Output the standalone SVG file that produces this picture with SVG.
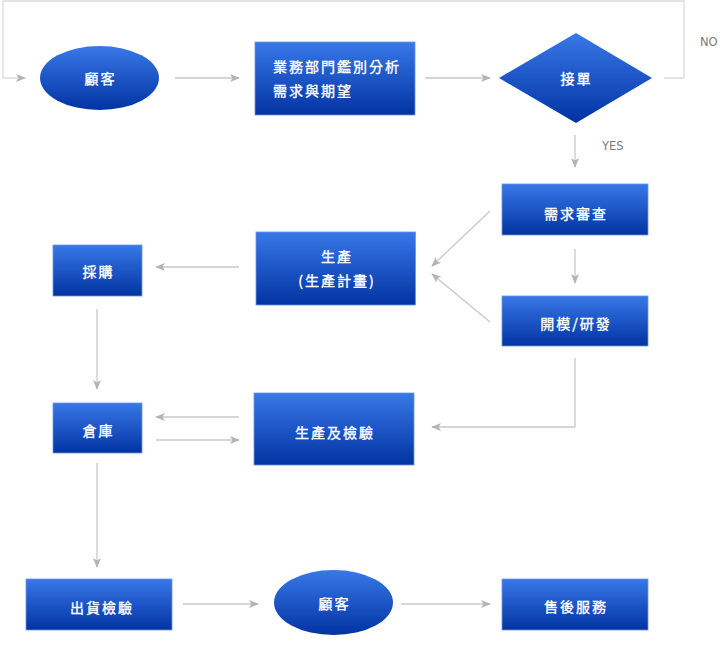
<svg xmlns="http://www.w3.org/2000/svg" width="722" height="666" viewBox="0 0 722 666">
<defs>
<linearGradient id="g" x1="0" y1="0" x2="0" y2="1">
<stop offset="0" stop-color="#3878e8"/>
<stop offset="1" stop-color="#0233a2"/>
</linearGradient>
<marker id="ah" viewBox="0 0 10 8" refX="9" refY="4" markerWidth="10" markerHeight="8" markerUnits="userSpaceOnUse" orient="auto">
<path d="M0,0 L10,4 L0,8 L2.5,4 z" fill="#b4b4b4"/>
</marker>
<style>
.n{fill:url(#g);stroke:#6f95e0;stroke-width:0.8}
.t{fill:#fff;stroke:#fff;stroke-width:0.35;font-family:"Noto Sans CJK TC","Noto Sans CJK SC",sans-serif;font-size:14px;letter-spacing:2px;text-anchor:middle;dominant-baseline:central}
.tl{text-anchor:start}
.c{fill:none;stroke:#c8c8c8;stroke-width:1.3}
.a{marker-end:url(#ah)}
.lab{fill:#7a7a7a;font-family:"DejaVu Sans",sans-serif;font-size:11.5px;dominant-baseline:central}
</style>
</defs>
<g id="connectors">
<polyline class="c a" points="664,78 684,78 684,1 3,1 3,78 25,78" style="stroke:#dcdcdc"/>
<line class="c a" x1="175" y1="78" x2="239" y2="78"/>
<line class="c a" x1="425" y1="78" x2="490" y2="78"/>
<line class="c a" x1="575" y1="135" x2="575" y2="167"/>
<line class="c a" x1="575" y1="249" x2="575" y2="283"/>
<line class="c a" x1="490" y1="211" x2="432" y2="266"/>
<line class="c a" x1="490" y1="322" x2="432" y2="274"/>
<polyline class="c a" points="575,358 575,427 432,427"/>
<line class="c a" x1="239" y1="267" x2="156" y2="267"/>
<line class="c a" x1="97" y1="309" x2="97" y2="389"/>
<line class="c a" x1="239" y1="417" x2="156" y2="417"/>
<line class="c a" x1="156" y1="440" x2="239" y2="440"/>
<line class="c a" x1="97" y1="463" x2="97" y2="567"/>
<line class="c a" x1="183" y1="604" x2="258" y2="604"/>
<line class="c a" x1="401" y1="604" x2="490" y2="604"/>
<text class="lab" x="700" y="42">NO</text>
<text class="lab" x="602" y="146">YES</text>
</g>
<g id="customer1">
<ellipse class="n" cx="99.5" cy="78" rx="59.5" ry="32" style="stroke:none"/>
<text class="t" x="100.5" y="78">顧客</text>
</g>
<g id="sales">
<rect class="n" x="255" y="42" width="160" height="73"/>
<text class="t tl" x="273" y="65.5">業務部門鑑別分析</text>
<text class="t tl" x="273" y="90">需求與期望</text>
</g>
<g id="decision">
<polygon class="n" points="576,33 652,78 576,123 499,78" style="stroke:none"/>
<text class="t" x="576.5" y="78">接單</text>
</g>
<g id="review">
<rect class="n" x="502" y="184" width="146" height="51"/>
<text class="t" x="576" y="212.5">需求審查</text>
</g>
<g id="rd">
<rect class="n" x="502" y="296" width="146" height="50"/>
<text class="t" x="576" y="323">開模/研發</text>
</g>
<g id="production">
<rect class="n" x="256" y="232" width="159.5" height="73"/>
<text class="t" x="337" y="256">生產</text>
<text class="t" x="337" y="280">(生產計畫)</text>
</g>
<g id="purchase">
<rect class="n" x="53" y="245" width="89" height="51"/>
<text class="t" x="98.5" y="271">採購</text>
</g>
<g id="prodinspect">
<rect class="n" x="254" y="393" width="160" height="72"/>
<text class="t" x="335" y="431.5">生產及檢驗</text>
</g>
<g id="warehouse">
<rect class="n" x="53" y="403" width="89" height="50"/>
<text class="t" x="98.5" y="430">倉庫</text>
</g>
<g id="shipinspect">
<rect class="n" x="26" y="579" width="146" height="51"/>
<text class="t" x="102" y="607">出貨檢驗</text>
</g>
<g id="customer2">
<ellipse class="n" cx="333.5" cy="602.5" rx="59.5" ry="32.5" style="stroke:none"/>
<text class="t" x="334.5" y="603">顧客</text>
</g>
<g id="aftersales">
<rect class="n" x="502" y="579" width="146" height="51"/>
<text class="t" x="576" y="606">售後服務</text>
</g>
</svg>
